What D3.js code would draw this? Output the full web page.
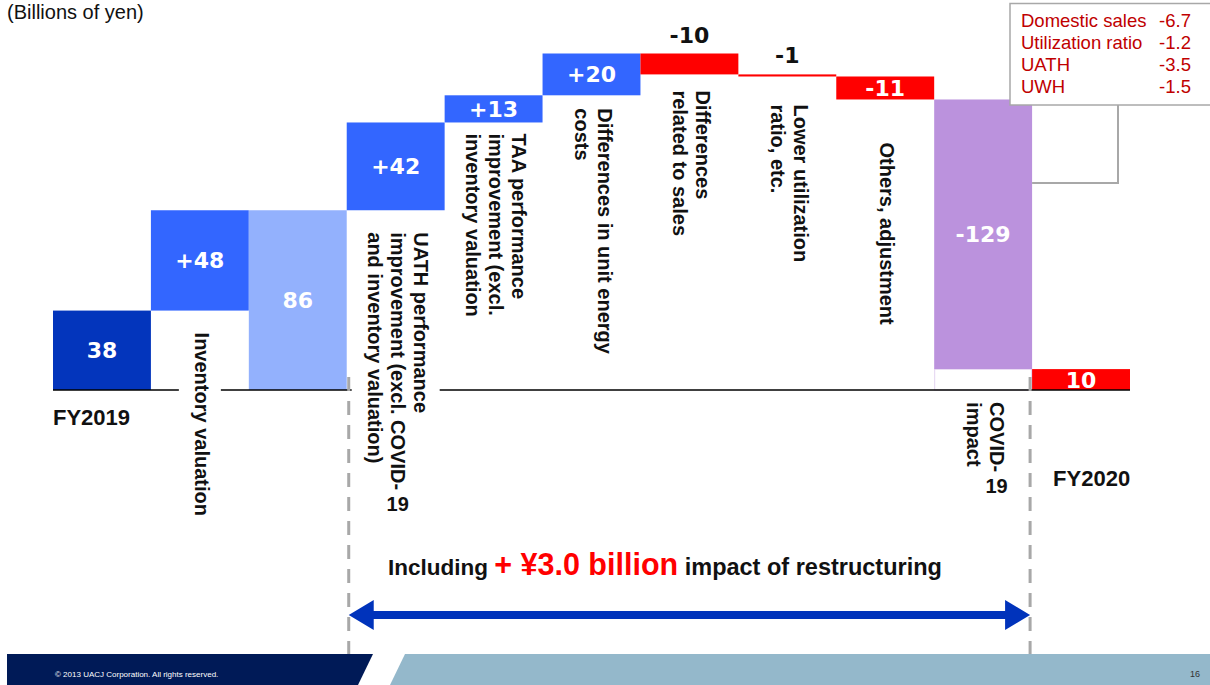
<!DOCTYPE html>
<html>
<head>
<meta charset="utf-8">
<script src="https://cdn.jsdelivr.net/npm/d3@7"></script>
<style>
  html, body { margin: 0; padding: 0; background: #fff; }
  svg { display: block; font-family: "Liberation Sans", Arial, sans-serif; }
</style>
</head>
<body>
<svg id="chart" width="1210" height="685"></svg>
<script>
// ---- Data: operating profit bridge FY2019 -> FY2020 (billions of yen) ----
const steps = [
  "FY2019",
  "Inventory valuation",
  "FY2019 excl. inventory valuation",
  "UATH performance improvement",
  "TAA performance improvement",
  "Differences in unit energy costs",
  "Differences related to sales",
  "Lower utilization ratio, etc.",
  "Others, adjustment",
  "COVID-19 impact",
  "FY2020"
];
const values  = [38, 48, 86, 42, 13, 20, -10, -1, -11, -129, 10];
const isTotal = [true, false, true, false, false, false, false, false, false, false, true];

// Category captions as they wrap in the vertical labels (null = none / horizontal)
const stepLines = [
  null,
  ["Inventory valuation"],
  null,
  ["UATH performance", "improvement (excl. COVID-19", "and inventory valuation)"],
  ["TAA performance", "improvement (excl.", "inventory valuation"],
  ["Differences in unit energy", "costs"],
  ["Differences", "related to sales"],
  ["Lower utilization", "ratio, etc."],
  ["Others, adjustment"],
  ["COVID-19", "impact"],
  null
];
const periodLabels = ["FY2019", "FY2020"];

// Breakdown of the "Differences related to sales" step
const breakdownItems  = ["Domestic sales", "Utilization ratio", "UATH", "UWH"];
const breakdownValues = [-6.7, -1.2, -3.5, -1.5];

const unitLabel  = "(Billions of yen)";
const noteParts  = ["Including ", "+ ¥3.0 billion", " impact of restructuring"];
const copyright  = "© 2013 UACJ Corporation. All rights reserved.";
const pageNumber = "16";

// ---- Styling / layout ----
const barColors = ["#0335bc", "#3366ff", "#93b1fd", "#3366ff", "#3366ff", "#3366ff",
                   "#ff0000", "#ff0000", "#ff0000", "#bb92dd", "#ff0000"];
const valueAbove = [false, false, false, false, false, false, true, true, false, false, false];
const labelGap   = [0, 22, 0, 22, 11, 13, 16, 28, 43, 33, 0];   // px below the bar bottom
const lineStep   = 23;

const svg = d3.select("#chart");
const baseY = 390;

// running totals for the waterfall
const starts = [], ends = [];
let run = 0;
values.forEach((v, i) => {
  if (isTotal[i]) { starts.push(0); ends.push(v); run = v; }
  else { starts.push(run); ends.push(run + v); run += v; }
});

const x = d3.scaleBand().domain(d3.range(steps.length)).range([53, 1130]).padding(0);
const y = d3.scaleLinear().domain([0, d3.max(ends)]).range([baseY, 53.5]);

const fmtValue = (v, total) => total ? String(v) : (v > 0 ? "+" + v : "-" + Math.abs(v));

// unit caption
svg.append("text").attr("x", 7).attr("y", 19).attr("font-size", 20).attr("fill", "#111")
  .text(unitLabel);

// white base under the COVID-19 step (outlined, as an empty box)
const covidIdx = 9;
svg.append("rect")
  .attr("x", x(covidIdx) + 0.5).attr("width", x.bandwidth() - 1)
  .attr("y", y(ends[covidIdx])).attr("height", y(0) - y(ends[covidIdx]))
  .attr("fill", "#fff").attr("stroke", "#e4d4f1").attr("stroke-width", 1);

// bars
svg.append("g").selectAll("rect").data(values).join("rect")
  .attr("x", (d, i) => x(i))
  .attr("width", x.bandwidth())
  .attr("y", (d, i) => y(Math.max(starts[i], ends[i])))
  .attr("height", (d, i) => Math.abs(y(starts[i]) - y(ends[i])))
  .attr("fill", (d, i) => barColors[i]);

// baseline
svg.append("line")
  .attr("x1", x(0)).attr("x2", x(steps.length - 1) + x.bandwidth())
  .attr("y1", baseY).attr("y2", baseY)
  .attr("stroke", "#000").attr("stroke-width", 1.6);

// value labels
svg.append("g").selectAll("text").data(values).join("text")
  .attr("x", (d, i) => x(i) + x.bandwidth() / 2)
  .attr("y", (d, i) => {
    const top = y(Math.max(starts[i], ends[i]));
    const bot = y(Math.min(starts[i], ends[i]));
    return valueAbove[i] ? top - 11 : (top + bot) / 2 + 8;
  })
  .attr("text-anchor", "middle")
  .attr("font-family", "'DejaVu Sans', Verdana, sans-serif")
  .attr("font-weight", "bold")
  .attr("font-size", 22)
  .attr("fill", (d, i) => valueAbove[i] ? "#111" : "#fff")
  .text((d, i) => fmtValue(d, isTotal[i]));

// vertical category captions
const labelLayer = svg.append("g")
  .attr("font-weight", "bold").attr("font-size", 20).attr("fill", "#111");
steps.forEach((name, i) => {
  const lines = stepLines[i];
  if (!lines) return;
  const g = labelLayer.append("g");
  const cx = x(i) + x.bandwidth() / 2 + 2;
  const top = y(Math.min(starts[i], ends[i])) + labelGap[i];
  const n = lines.length;
  lines.forEach((line, j) => {
    const lx = cx + ((n - 1) / 2 - j) * lineStep;
    const m = line.match(/^(.*-)(\d+)$/);   // trailing number stands upright
    const t = g.append("text")
      .attr("transform", `translate(${lx},${top}) rotate(90)`)
      .attr("dominant-baseline", "central")
      .text(m ? m[1] : line);
    if (m) {
      const len = t.node().getComputedTextLength();
      g.append("text")
        .attr("x", lx).attr("y", top + len + 6)
        .attr("text-anchor", "middle").attr("dominant-baseline", "hanging")
        .text(m[2]);
    }
  });
  const bb = g.node().getBBox();
  g.insert("rect", ":first-child")
    .attr("x", bb.x - 12).attr("y", bb.y - 1)
    .attr("width", bb.width + 20).attr("height", bb.height + 2)
    .attr("fill", "#fff");
});

// period captions
svg.append("text").attr("x", x(0)).attr("y", 425)
  .attr("font-weight", "bold").attr("font-size", 22).attr("fill", "#111")
  .text(periodLabels[0]);
svg.append("text").attr("x", x(10) + 21).attr("y", 486)
  .attr("font-weight", "bold").attr("font-size", 22).attr("fill", "#111")
  .text(periodLabels[1]);

// dashed range markers (UATH step through COVID-19 step)
const rangeL = x(3) + 2, rangeR = x(10) - 2;
[rangeL, rangeR].forEach(px => {
  svg.append("line")
    .attr("x1", px).attr("x2", px).attr("y1", 377).attr("y2", 662)
    .attr("stroke", "#a8a8a8").attr("stroke-width", 3)
    .attr("stroke-dasharray", "14,10");
});

// restructuring note
const note = svg.append("text").attr("x", 388).attr("y", 575)
  .attr("font-weight", "bold").attr("font-size", 22.5).attr("fill", "#111");
note.append("tspan").text(noteParts[0]);
note.append("tspan").attr("fill", "#ff0000").attr("font-size", 30.5).text(noteParts[1]);
note.append("tspan").attr("font-size", 23.5).text(noteParts[2]);

// double-headed arrow spanning the range
const ay = 615, hl = 25, hh = 15, sh = 4;
svg.append("path")
  .attr("d", d3.line()([
    [rangeL, ay], [rangeL + hl, ay - hh], [rangeL + hl, ay - sh],
    [rangeR - hl, ay - sh], [rangeR - hl, ay - hh], [rangeR, ay],
    [rangeR - hl, ay + hh], [rangeR - hl, ay + sh], [rangeL + hl, ay + sh],
    [rangeL + hl, ay + hh]
  ]) + "Z")
  .attr("fill", "#0033bb");

// breakdown callout with connector to the COVID-19 step
svg.append("path")
  .attr("d", `M${x(10)},183 H1118 V105`)
  .attr("fill", "none").attr("stroke", "#a8a8a8").attr("stroke-width", 2);
svg.append("rect")
  .attr("x", 1010).attr("y", 3.5).attr("width", 215).attr("height", 101.5)
  .attr("fill", "#fff").attr("stroke", "#a8a8a8").attr("stroke-width", 1.5);
const bk = svg.append("g").attr("font-size", 18.5).attr("fill", "#c00000");
breakdownItems.forEach((item, i) => {
  bk.append("text").attr("x", 1021).attr("y", 27 + i * 22).text(item);
  bk.append("text").attr("x", 1191).attr("y", 27 + i * 22).attr("text-anchor", "end")
    .text(d3.format(".1f")(breakdownValues[i]).replace("−", "-"));
});

// footer
svg.append("polygon").attr("points", "7,654 373,654 358,685 7,685").attr("fill", "#001a57");
svg.append("polygon").attr("points", "405,654 1210,654 1210,685 390,685").attr("fill", "#94b8cb");
svg.append("text").attr("x", 55).attr("y", 677).attr("font-size", 8).attr("fill", "#fff").text(copyright);
svg.append("text").attr("x", 1200).attr("y", 677).attr("font-size", 9).attr("text-anchor", "end")
  .attr("fill", "#333").text(pageNumber);
</script>
</body>
</html>
